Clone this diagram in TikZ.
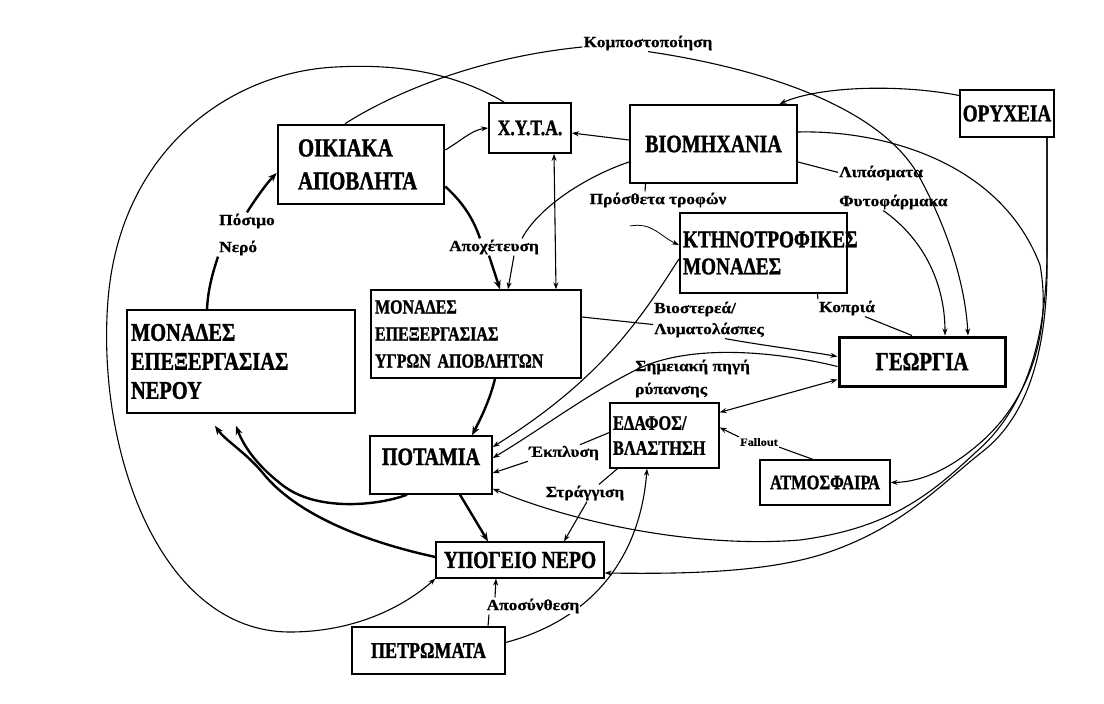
\documentclass[tikz,border=0pt]{standalone}
\usepackage{fontspec}
\setmainfont{Liberation Serif}
\newfontfamily\bxf[FakeStretch=0.80,FakeBold=1.2]{Liberation Serif Bold}
\newfontfamily\lbf[FakeStretch=1.12,FakeBold=0.6]{Liberation Serif Bold}
\usetikzlibrary{arrows.meta}
\newcommand{\myfs}[2]{\fontsize{#1}{#2}\selectfont}
\pgfdeclarelayer{bg}
\pgfsetlayers{bg,main}
\tikzset{
  bx/.style={draw=black, line width=1.3pt, inner sep=2pt},
  lb/.style={inner sep=1pt, font={\lbf\myfs{15.5}{18}}},
  cnn/.style={line width=1.1pt},
  cn/.style={line width=1.1pt, -{Stealth[length=7pt,width=5pt]}},
  dbl/.style={line width=1.1pt, {Stealth[length=7pt,width=5pt]}-{Stealth[length=7pt,width=5pt]}},
  tkn/.style={line width=2.4pt},
  tk/.style={line width=2.4pt, -{Stealth[length=9pt,width=7pt]}},
}
\begin{document}
\begin{tikzpicture}[x=1pt,y=-1pt]
\path[use as bounding box] (0,0) rectangle (1104,704);
% boxes
\node[bx, line width=2.6pt, minimum width=166pt, minimum height=79pt, inner xsep=20pt, text width=126pt, align=left, font={\bxf\myfs{26}{33}}] (oik) at (361,164.5) {ΟΙΚΙΑΚΑ\\ΑΠΟΒΛΗΤΑ};
\node[bx, line width=1.8pt, minimum width=82pt, minimum height=50pt, font={\bxf\myfs{22}{26}}] (xyta) at (530,128) {Χ.Υ.Τ.Α.};
\node[bx, line width=2pt, minimum width=167pt, minimum height=78pt, font={\bxf\myfs{25}{30}}] (bio) at (713.5,144) {ΒΙΟΜΗΧΑΝΙΑ};
\node[bx, line width=1.5pt, minimum width=94pt, minimum height=47pt, inner xsep=0pt, font={\bxf\myfs{24}{30}}] (ory) at (1007,113.5) {ΟΡΥΧΕΙΑ};
\node[bx, line width=2.2pt, minimum width=167pt, minimum height=80pt, inner xsep=3pt, text width=161pt, align=left, font={\bxf\myfs{24}{27}}] (kti) at (763.5,253) {ΚΤΗΝΟΤΡΟΦΙΚΕΣ\\ΜΟΝΑΔΕΣ};
\node[bx, line width=1.4pt, minimum width=210pt, minimum height=88pt, inner xsep=4pt, text width=202pt, align=left, font={\bxf\myfs{20}{27}}] (ygr) at (476,334) {ΜΟΝΑΔΕΣ\\ΕΠΕΞΕΡΓΑΣΙΑΣ\\ΥΓΡΩΝ ΑΠΟΒΛΗΤΩΝ};
\node[bx, line width=1.6pt, minimum width=228pt, minimum height=103pt, inner xsep=4pt, text width=220pt, align=left, font={\bxf\myfs{25.5}{29}}] (ner) at (241,361.5) {ΜΟΝΑΔΕΣ\\ΕΠΕΞΕΡΓΑΣΙΑΣ\\ΝΕΡΟΥ};
\node[bx, line width=3pt, minimum width=166pt, minimum height=49pt, font={\bxf\myfs{26}{30}}] (geo) at (922,361.5) {ΓΕΩΡΓΙΑ};
\node[bx, line width=1.2pt, minimum width=109pt, minimum height=65pt, inner xsep=3pt, text width=103pt, align=left, font={\bxf\myfs{20.5}{25}}] (eda) at (664.5,435.5) {ΕΔΑΦΟΣ/\\ΒΛΑΣΤΗΣΗ};
\node[bx, line width=1.4pt, minimum width=122pt, minimum height=58pt, font={\bxf\myfs{25}{30}}] (pot) at (431,465) {\raisebox{0pt}[0pt][0pt]{ΠΟΤΑΜΙΑ}};
\node[bx, line width=1.2pt, minimum width=130pt, minimum height=45pt, font={\bxf\myfs{20.5}{25}}] (atm) at (825,482.5) {ΑΤΜΟΣΦΑΙΡΑ};
\node[bx, line width=1.2pt, minimum width=168pt, minimum height=36pt, inner sep=0pt, font={\bxf\myfs{24.5}{30}}] (ypo) at (520,560) {ΥΠΟΓΕΙΟ ΝΕΡΟ};
\node[bx, line width=1.3pt, minimum width=153pt, minimum height=47pt, font={\bxf\myfs{22.5}{28}}] (pet) at (428.5,650.5) {ΠΕΤΡΩΜΑΤΑ};
% labels
\node[lb] (komp) at (648,43) {Κομποστοποίηση};
\node[lb, align=left, anchor=west, font={\lbf\myfs{15.5}{29}}] (lip) at (838,187.5) {Λιπάσματα\\Φυτοφάρμακα};
\node[lb] (pros) at (658,200) {Πρόσθετα τροφών};
\node[lb] (apox) at (494,247) {Αποχέτευση};
\node[lb, align=left, anchor=west, font={\lbf\myfs{15.5}{21}}] (bios) at (653,319.5) {Βιοστερεά/\\Λυματολάσπες};
\node[lb] (kopr) at (847,308) {Κοπριά};
\node[lb, align=left, anchor=west, font={\lbf\myfs{15.5}{23}}] (simi) at (634,378.5) {Σημειακή πηγή\\ρύπανσης};
\node[lb] (ekpl) at (564,453) {Έκπλυση};
\node[lb] (strag) at (585,493) {Στράγγιση};
\node[lb, fill=white] (apos) at (533,606) {Αποσύνθεση};
\node[lb, font={\lbf\myfs{11}{13}}] (fall) at (759,442) {Fallout};
\node[lb, align=left, anchor=west, font={\lbf\myfs{15.5}{27}}] (posimo) at (218,234.5) {Πόσιμο\\Νερό};
\coordinate (prosfoot) at (630,226);
\begin{pgfonlayer}{bg}
\fill[white] (0,0) rectangle (1104,704);
% landfill -> groundwater (big left arc)
\draw[cn] ([xshift=16pt]xyta.north west) .. controls (450,70) and (390,64) .. (336,67) .. controls (230,72) and (120,150) .. (108,300) .. controls (96,450) and (160,632) .. (290,632) .. controls (350,632) and (400,610) .. (ypo.south west);
% composting
\draw[cnn] ([xshift=-16pt]oik.north) .. controls (385,98) and (470,58) .. ([yshift=-4pt]komp.west);
\draw[cn] (komp.south) .. controls (740,65) and (880,100) .. (921,180) .. controls (945,225) and (965,280) .. ([xshift=46pt]geo.north);
% fertilisers
\draw[cnn] ([yshift=-18pt]bio.east) -- ([yshift=-8pt]lip.north west);
\draw[cn] ([xshift=-10pt]lip.south) .. controls (925,240) and (945,285) .. ([xshift=23pt]geo.north);
% industry -> atmosphere
\draw[cn] ([yshift=12pt]bio.east) .. controls (880,130) and (1000,160) .. (1040,265) .. controls (1052,330) and (1030,400) .. (980,443) .. controls (955,465) and (925,482) .. (atm.east);
% mines -> rivers / groundwater
\draw[cn] ([xshift=40pt]ory.south) -- (1047,250) .. controls (1047,340) and (1025,410) .. (976,452) .. controls (930,495) and (890,528) .. (800,540) .. controls (700,548) and (580,525) .. ([yshift=6pt]pot.south east);
\draw[cn] ([xshift=40pt]ory.south) -- (1047,250) .. controls (1049,345) and (1030,415) .. (982,452) .. controls (940,485) and (900,530) .. (820,555) .. controls (760,573) and (680,574) .. ([yshift=-13pt]ypo.east);
% mines -> industry
\draw[cn] ([yshift=18pt]ory.west) .. controls (900,84) and (820,86) .. ([xshift=66pt]bio.north);
% industry -> landfill, households -> landfill
\draw[cn] ([yshift=4pt]bio.west) -- ([yshift=-5pt]xyta.east);
\draw[cn] ([yshift=14.5pt]oik.east) .. controls (462,140) and (472,130) .. (xyta.west);
% sewerage
\draw[tkn] ([yshift=-22pt]oik.east) .. controls (460,200) and (472,215) .. ([xshift=-14pt]apox.north);
\draw[tk] ([xshift=-5pt]apox.south) -- ([xshift=24pt]ygr.north);
\draw[cnn] ([yshift=-18pt]bio.west) .. controls (590,175) and (540,205) .. ([xshift=28pt]apox.north);
\draw[cn] ([xshift=20pt]apox.south) -- ([xshift=32pt]ygr.north);
\draw[dbl] ([xshift=24pt]xyta.south) -- ([xshift=80pt]ygr.north);
% feed additives
\draw[cnn] ([xshift=-68pt]bio.south) -- ([xshift=-13pt]pros.north);
\draw[cn, line width=0.8pt] (prosfoot) .. controls (652,222) and (660,236) .. ([yshift=8pt]kti.west);
% livestock -> rivers
\draw[cn] ([yshift=-6pt]kti.west) .. controls (640,320) and (600,380) .. ([yshift=18pt]pot.east);
% point source
\draw[cn] ([yshift=-5pt]geo.west) .. controls (770,350) and (690,345) .. (640,368) .. controls (590,392) and (540,430) .. ([yshift=7pt]pot.east);
% biosolids
\draw[cnn] ([yshift=17pt]ygr.east) -- ([yshift=-5pt]bios.west);
\draw[cn] ([xshift=16pt]bios.south) .. controls (760,345) and (800,350) .. ([yshift=5pt]geo.west);
% manure
\draw[cnn] ([xshift=54pt]kti.south) -- (kopr.north west);
\draw[cnn] ([xshift=18pt]kopr.south) -- ([xshift=-10pt]geo.north);
% agriculture <-> soil
\draw[dbl] ([yshift=-18pt]geo.west) -- ([yshift=-10pt]eda.north east);
% fallout
\draw[cnn] ([xshift=-12pt]atm.north) -- (fall.south east);
\draw[cn] (fall.north west) -- ([yshift=8pt]eda.east);
% leaching
\draw[cnn] ([yshift=3pt]eda.west) -- ([xshift=16pt]ekpl.north);
\draw[cn] (ekpl.south west) -- ([yshift=-8pt]pot.east);
% drainage
\draw[cnn] ([xshift=-47pt]eda.south) -- ([xshift=14pt]strag.north);
\draw[cn] ([xshift=2pt]strag.south) -- ([xshift=44pt]ypo.north);
% weathering
\draw[cn] ([yshift=8pt]pet.east) .. controls (590,620) and (640,560) .. ([xshift=-17.5pt]eda.south);
\draw[cnn] ([xshift=59.5pt]pet.north) -- ([xshift=-44pt]apos.south);
\draw[cn] ([xshift=-38pt]apos.north) -- ([xshift=-24pt]ypo.south);
% thick water flows
\draw[tk] ([xshift=19pt]ygr.south) .. controls (490,400) and (480,420) .. ([xshift=41pt]pot.north);
\draw[tk] ([xshift=29pt]pot.south) -- ([xshift=-32pt]ypo.north);
\draw[tk] ([xshift=-24pt]pot.south) .. controls (380,505) and (320,512) .. (285,487) .. controls (258,467) and (244,447) .. ([xshift=-5pt,yshift=-12pt]ner.south);
\draw[tk] ([yshift=3pt]ypo.west) .. controls (380,545) and (300,520) .. (262,472) .. controls (245,452) and (225,440) .. ([xshift=-26pt,yshift=-12pt]ner.south);
\draw[tkn] ([xshift=-34pt]ner.north) .. controls (208,290) and (212,275) .. (posimo.south west);
\draw[tk] (posimo.north) .. controls (258,195) and (268,182) .. ([yshift=-8.5pt]oik.west);
\end{pgfonlayer}
\end{tikzpicture}
\end{document}
